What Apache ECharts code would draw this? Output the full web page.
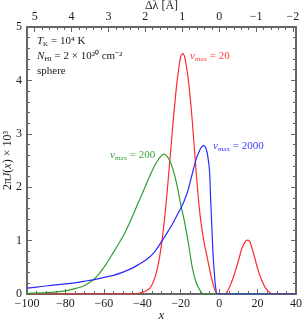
<!DOCTYPE html>
<html><head><meta charset="utf-8">
<script src="https://cdn.jsdelivr.net/npm/echarts@6/dist/echarts.min.js"></script>
<style>html,body{margin:0;padding:0;background:#fff}#c{width:302px;height:319px}</style>
</head><body><div id="c"></div>
<script>
// x values and 2πJ(x)×10^3 for each model
const redX = [-100,-50,-44,-42,-40,-38,-36,-34,-32,-30,-28,-26,-24,-22,-20,-19,-18,-16,-14,-12,-10,-8,-6,-4,-2,-1,0,3,4,6,8,10,12,14,15,16,18,20,22,24,26,28,40];
const redY = [0,0,0,0.01,0.03,0.06,0.11,0.25,0.5,0.93,1.55,2.35,3.2,3.95,4.45,4.5,4.45,4.0,3.25,2.3,1.5,1.0,0.65,0.3,0.05,0,0,0,0.03,0.18,0.38,0.62,0.87,1.0,1.01,0.98,0.75,0.48,0.27,0.12,0.04,0,0];
const greenX = [-100,-90,-80,-75,-70,-65,-62,-59,-56,-53,-50,-47,-44,-41,-38,-35,-32,-30,-29,-28,-26,-24,-22,-20,-18,-16,-14,-12,-10,-9,-8,0,40];
const greenY = [0.01,0.025,0.06,0.1,0.16,0.28,0.4,0.55,0.72,0.9,1.08,1.3,1.55,1.8,2.05,2.3,2.5,2.59,2.62,2.61,2.52,2.33,2.05,1.68,1.35,0.95,0.5,0.22,0.07,0.02,0,0,0];
const blueX = [-100,-95,-90,-85,-80,-75,-70,-65,-60,-55,-50,-46,-42,-38,-34,-30,-27,-24,-22,-20,-18,-16,-14,-12,-10,-9,-8,-7,-6,-5,-4.4,-3.5,-3,-2,-1,0,40];
const blueY = [0.11,0.13,0.15,0.17,0.19,0.21,0.24,0.27,0.31,0.35,0.41,0.47,0.55,0.64,0.77,0.98,1.15,1.33,1.47,1.6,1.76,1.97,2.25,2.52,2.7,2.76,2.78,2.74,2.6,2.3,1.76,1.0,0.65,0.18,0,0,0];
const topTicks = [-2,-1,0,1,2,3,4,5];
const xPerAngstrom = 19.2;

const zip = (a,b)=>a.map((v,i)=>[v,b[i]]);
const minus = v => (v<0 ? '\u2212'+(-v) : String(v));
const minorTop = [];
for (let k=-10;k<=26;k++){ const v=k/5; if (Math.abs(v-Math.round(v))>1e-6) minorTop.push(+v.toFixed(1)); }

const AX = '#666';
const FONT = 'Liberation Serif';
const frameLine = {show:true, onZero:false, lineStyle:{color:AX,width:2}};
const tickMaj = {show:true, inside:true, length:5, lineStyle:{color:AX,width:1}};
const tickMin = {show:true, length:3, lineStyle:{color:AX,width:1}};
const lab = {fontFamily:FONT, fontSize:12, color:'#222'};
const sub = {fontFamily:FONT, fontSize:7, verticalAlign:'bottom', padding:[5,0,0,0]};

const chart = echarts.init(document.getElementById('c'), null, {renderer:'canvas'});
chart.setOption({
  animation:false,
  grid:{left:27,right:6,top:27,bottom:25,containLabel:false,outerBoundsMode:'none'},
  xAxis:[
    {type:'value',position:'bottom',min:-100,max:40,interval:20,
     axisLine:frameLine,axisTick:tickMaj,minorTick:Object.assign({splitNumber:4},tickMin),
     splitLine:{show:false},
     axisLabel:Object.assign({margin:4,formatter:minus},lab),
     name:'x',nameLocation:'middle',nameGap:15,nameMoveOverlap:false,
     nameTextStyle:{fontFamily:FONT,fontSize:13,fontStyle:'italic',color:'#222'}},
    {type:'value',position:'top',min:-40/xPerAngstrom,max:100/xPerAngstrom,inverse:true,
     axisLine:frameLine,
     axisTick:Object.assign({customValues:topTicks},tickMaj),
     splitLine:{show:false},
     axisLabel:Object.assign({margin:4,customValues:topTicks,formatter:minus},lab),
     name:'\u0394\u03bb [\u00c5]',nameLocation:'middle',nameGap:15,nameMoveOverlap:false,
     nameTextStyle:{fontFamily:FONT,fontSize:12,color:'#222'}},
    {type:'value',position:'top',min:-40/xPerAngstrom,max:100/xPerAngstrom,inverse:true,
     axisLine:{show:false,onZero:false},
     axisTick:{show:true,inside:true,length:3,customValues:minorTop,lineStyle:{color:AX,width:1}},
     axisLabel:{show:false},splitLine:{show:false}}
  ],
  yAxis:[
    {type:'value',position:'left',min:0,max:5,interval:1,
     axisLine:frameLine,axisTick:tickMaj,minorTick:Object.assign({splitNumber:5},tickMin),
     splitLine:{show:false},
     axisLabel:Object.assign({margin:5},lab),
     name:'{a|2\u03c0}{i|J}{a|(}{i|x}{a|) \u00d7 10\u00b3}',nameLocation:'middle',nameGap:13,nameRotate:90,nameMoveOverlap:false,
     nameTextStyle:{rich:{a:{fontFamily:FONT,fontSize:12,color:'#222'},i:{fontFamily:FONT,fontSize:12,fontStyle:'italic',color:'#222'}}}},
    {type:'value',position:'right',min:0,max:5,interval:1,
     axisLine:frameLine,axisTick:tickMaj,minorTick:Object.assign({splitNumber:5},tickMin),
     splitLine:{show:false},axisLabel:{show:false}}
  ],
  series:[
    {type:'line',name:'20',data:zip(redX,redY),xAxisIndex:0,yAxisIndex:0,smooth:0.25,showSymbol:false,symbol:'none',
     lineStyle:{color:'#ff2a2a',width:1.2},z:3},
    {type:'line',name:'200',data:zip(greenX,greenY),xAxisIndex:0,yAxisIndex:0,smooth:0.25,showSymbol:false,symbol:'none',
     lineStyle:{color:'#2e9e2e',width:1.2},z:3},
    {type:'line',name:'2000',data:zip(blueX,blueY),xAxisIndex:0,yAxisIndex:0,smooth:0.25,showSymbol:false,symbol:'none',
     lineStyle:{color:'#2a2aff',width:1.2},z:3}
  ],
  graphic:[
    {type:'text',left:37,top:36,style:{text:'{i|T}{s|K}{a| = 10\u2074 K}',rich:{i:{fontFamily:FONT,fontSize:11,fontStyle:'italic',fill:'#222'},a:{fontFamily:FONT,fontSize:11,fill:'#222'},s:Object.assign({fill:'#222'},sub)}}},
    {type:'text',left:37,top:51,style:{text:'{i|N}{s|HI}{a| = 2 \u00d7 10\u00b2\u2070 cm\u207b\u00b2}',rich:{i:{fontFamily:FONT,fontSize:11,fontStyle:'italic',fill:'#222'},a:{fontFamily:FONT,fontSize:11,fill:'#222'},s:Object.assign({fill:'#222'},sub)}}},
    {type:'text',left:37,top:66,style:{text:'sphere',fontFamily:FONT,fontSize:11,fill:'#222'}},
    {type:'text',left:190,top:51,style:{text:'{i|v}{s|max}{a| = 20}',rich:{i:{fontFamily:FONT,fontSize:11,fontStyle:'italic',fill:'#ff3b3b'},a:{fontFamily:FONT,fontSize:11,fill:'#ff3b3b'},s:Object.assign({fill:'#ff3b3b'},sub)}}},
    {type:'text',left:213,top:141,style:{text:'{i|v}{s|max}{a| = 2000}',rich:{i:{fontFamily:FONT,fontSize:11,fontStyle:'italic',fill:'#3b3bff'},a:{fontFamily:FONT,fontSize:11,fill:'#3b3bff'},s:Object.assign({fill:'#3b3bff'},sub)}}},
    {type:'text',left:110,top:150,style:{text:'{i|v}{s|max}{a| = 200}',rich:{i:{fontFamily:FONT,fontSize:11,fontStyle:'italic',fill:'#3aa53a'},a:{fontFamily:FONT,fontSize:11,fill:'#3aa53a'},s:Object.assign({fill:'#3aa53a'},sub)}}}
  ]
});
</script></body></html>
